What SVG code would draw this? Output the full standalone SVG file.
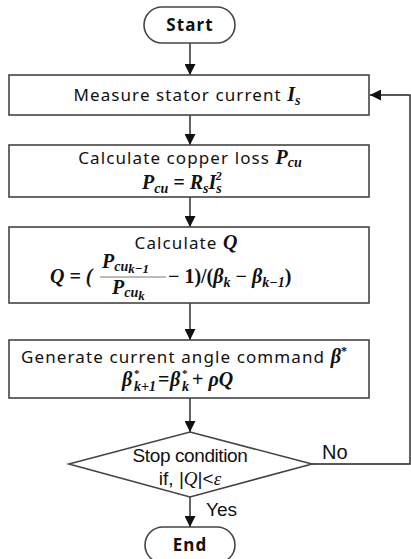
<svg xmlns="http://www.w3.org/2000/svg" width="411" height="559" viewBox="0 0 411 559">
<defs>
<marker id="ah" viewBox="0 0 10 10" refX="10" refY="5" markerWidth="11" markerHeight="11" markerUnits="userSpaceOnUse" orient="auto">
<path d="M0,0 L10,5 L0,10 z" fill="#111"/>
</marker>
</defs>
<style>
.box{fill:#fff;stroke:#444;stroke-width:1.6}
.ln{fill:none;stroke:#222;stroke-width:1.4}
.t{font-family:"Noto Sans","DejaVu Sans",sans-serif;font-size:17px;fill:#111;letter-spacing:1.1px}
.m{font-family:"Liberation Serif",serif;font-style:italic;font-weight:bold;fill:#111;letter-spacing:0}
.mr{font-family:"Liberation Serif",serif;font-weight:bold;fill:#111;letter-spacing:0}
.d{font-family:"Liberation Sans",sans-serif;fill:#111}
</style>
<rect width="411" height="559" fill="#fff"/>
<g id="connectors">
<line class="ln" x1="190" y1="43" x2="190" y2="75" marker-end="url(#ah)"/>
<line class="ln" x1="190" y1="115" x2="190" y2="145" marker-end="url(#ah)"/>
<line class="ln" x1="190" y1="197" x2="190" y2="227" marker-end="url(#ah)"/>
<line class="ln" x1="190" y1="303" x2="190" y2="340" marker-end="url(#ah)"/>
<line class="ln" x1="190" y1="398" x2="190" y2="432" marker-end="url(#ah)"/>
<line class="ln" x1="190" y1="497" x2="190" y2="527" marker-end="url(#ah)"/>
<polyline class="ln" points="312,464 410,464 410,95 370,95" marker-end="url(#ah)"/>
<text class="d" x="322" y="459" font-size="20">No</text>
<text class="d" x="206" y="516" font-size="19">Yes</text>
</g>
<g id="start">
<rect class="box" x="144" y="7" width="91" height="36" rx="18"/>
<text class="t" x="190" y="31" text-anchor="middle" font-weight="bold" font-size="17">Start</text>
</g>
<g id="measure">
<rect class="box" x="9" y="75" width="360" height="40"/>
<text class="t" x="187" y="101" text-anchor="middle">Measure stator current <tspan class="m" font-size="20">I</tspan><tspan class="m" font-size="14" dy="4">s</tspan></text>
</g>
<g id="copper">
<rect class="box" x="9" y="145" width="360" height="52"/>
<text class="t" x="190" y="164" text-anchor="middle">Calculate copper loss <tspan class="m" font-size="20">P</tspan><tspan class="m" font-size="14" dy="3">cu</tspan></text>
<text class="m" x="142" y="189" font-size="20">P<tspan font-size="14" dy="4">cu</tspan><tspan class="mr" dy="-4"> = </tspan>R<tspan font-size="14" dy="4">s</tspan><tspan dy="-4">I</tspan><tspan font-size="14" dy="4">s</tspan><tspan class="mr" font-size="12" dx="-6" dy="-13">2</tspan></text>
</g>
<g id="calcq">
<rect class="box" x="9" y="227" width="360" height="76"/>
<text class="t" x="186" y="249" text-anchor="middle">Calculate <tspan class="m" font-size="20">Q</tspan></text>
<text class="m" x="50" y="283" font-size="20">Q<tspan class="mr"> = (</tspan></text>
<text class="m" x="102" y="268" font-size="20">P<tspan font-size="14" dy="3">cu</tspan><tspan font-size="13" dy="2">k−1</tspan></text>
<line x1="100" y1="277" x2="166" y2="277" stroke="#555" stroke-width="0.8"/>
<text class="m" x="112" y="294" font-size="20">P<tspan font-size="14" dy="3">cu</tspan><tspan font-size="13" dy="3">k</tspan></text>
<text class="mr" x="168" y="283" font-size="20">− 1)/(<tspan class="m">β</tspan><tspan class="m" font-size="14" dy="4">k</tspan><tspan dy="-4"> − </tspan><tspan class="m">β</tspan><tspan class="m" font-size="14" dy="4">k−1</tspan><tspan dy="-4">)</tspan></text>
</g>
<g id="generate">
<rect class="box" x="9" y="340" width="360" height="58"/>
<text class="t" x="184" y="363" text-anchor="middle">Generate current angle command <tspan class="m" font-size="20">β</tspan><tspan class="mr" font-size="12" dy="-8">*</tspan></text>
<text class="m" x="122" y="386" font-size="20">β</text>
<text class="mr" x="134" y="377" font-size="11">*</text>
<text class="m" x="134" y="391" font-size="14">k+1</text>
<text class="mr" x="158" y="386" font-size="20">=</text>
<text class="m" x="170" y="386" font-size="20">β</text>
<text class="mr" x="182" y="377" font-size="11">*</text>
<text class="m" x="182" y="391" font-size="14">k</text>
<text class="mr" x="192" y="386" font-size="20"> + <tspan class="m">ρQ</tspan></text>
</g>
<g id="stop">
<polygon class="box" points="190,432 312,464 190,497 69,464"/>
<text class="d" x="190" y="462" text-anchor="middle" font-size="19" letter-spacing="-0.4">Stop condition</text>
<text class="d" x="190" y="485" text-anchor="middle" font-size="19">if, |<tspan font-family="Liberation Serif" font-style="italic">Q</tspan>|&lt;<tspan font-family="Liberation Serif" font-style="italic">ε</tspan></text>
</g>
<g id="end">
<rect class="box" x="145" y="527" width="90" height="36" rx="18"/>
<text class="t" x="190" y="551" text-anchor="middle" font-weight="bold" font-size="17">End</text>
</g>
</svg>
